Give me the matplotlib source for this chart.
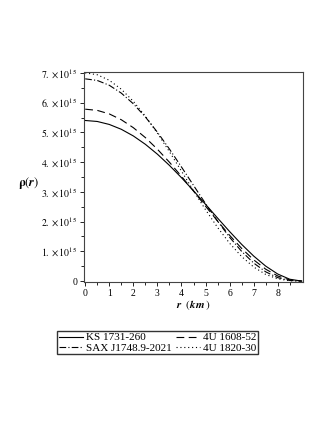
import matplotlib.pyplot as plt

plt.rcParams["font.family"] = "Liberation Serif"
plt.rcParams["mathtext.fontset"] = "stix"

# radius (km)
r = [0, 0.5, 1, 1.5, 2, 2.5, 3, 3.5, 4, 4.5, 5, 5.5, 6, 6.5, 7, 7.5, 8, 8.5, 9]

# density in units of 1e15
rho_ks1731 = [5.40, 5.367, 5.267, 5.104, 4.880, 4.599, 4.267, 3.890, 3.477, 3.038,
              2.581, 2.120, 1.667, 1.236, 0.843, 0.504, 0.238, 0.063, 0.0]
rho_4u1608 = [5.78, 5.740, 5.621, 5.425, 5.158, 4.825, 4.434, 3.997, 3.523, 3.026,
              2.519, 2.019, 1.540, 1.100, 0.715, 0.401, 0.172, 0.039, 0.0]
rho_sax1748 = [6.80, 6.746, 6.584, 6.320, 5.961, 5.519, 5.006, 4.440, 3.837, 3.219,
               2.605, 2.017, 1.475, 1.000, 0.608, 0.312, 0.117, 0.021, 0.0]
rho_4u1820 = [7.00, 6.938, 6.752, 6.451, 6.044, 5.546, 4.975, 4.351, 3.698, 3.039,
              2.400, 1.804, 1.273, 0.825, 0.474, 0.225, 0.076, 0.011, 0.0]

labels = ["KS 1731-260", "4U 1608-52", "SAX J1748.9-2021", "4U 1820-30"]

fig = plt.figure(figsize=(3.27, 4.23), dpi=100)
ax = fig.add_axes([84 / 327, 1 - 282 / 423, 219 / 327, 210 / 423])

scale = 1e15
lw = 0.8
l1, = ax.plot(r, [v * scale for v in rho_ks1731], color="black", lw=lw, ls="-")
l2, = ax.plot(r, [v * scale for v in rho_4u1608], color="black", lw=lw, ls=(0, (7, 4)))
l3, = ax.plot(r, [v * scale for v in rho_sax1748], color="black", lw=lw, ls=(0, (6, 2, 1, 2)))
l4, = ax.plot(r, [v * scale for v in rho_4u1820], color="black", lw=lw, ls=(0, (1, 2.5)))

ax.set_xlim(-0.05, 9.05)
ax.set_ylim(-0.03e15, 7.03e15)

ax.set_xticks(range(0, 9))
ax.set_xticks([x + 0.5 for x in range(0, 9)], minor=True)
ax.set_xticklabels([str(x) for x in range(0, 9)])

yt = [i * scale for i in range(0, 8)]
ax.set_yticks(yt)
ax.set_yticks([(i + 0.5) * scale for i in range(0, 7)], minor=True)
ax.set_yticklabels(["0"] + [r"$%d.\times10^{15}$" % i for i in range(1, 8)])

ax.tick_params(axis="both", which="major", direction="out", length=3, width=0.6,
               labelsize=7, pad=2)
ax.tick_params(axis="both", which="minor", direction="out", length=2, width=0.6)
for s in ax.spines.values():
    s.set_linewidth(0.8)
    s.set_color("#444444")

ax.set_xlabel(r"$\mathbfit{r}\ \ (\mathbfit{km}\,)$", fontsize=8, labelpad=0)
fig.text(18 / 327, 1 - 183 / 423, r"$\mathbf{\rho}(\mathbfit{r})$", fontsize=9,
         va="center", ha="left")

# legend filled row by row: KS | 4U1608 / SAX | 4U1820
fig.legend([l1, l3, l2, l4], [labels[0], labels[2], labels[1], labels[3]],
           loc="upper left", ncol=2,
           bbox_to_anchor=(57 / 327, 1 - 331 / 423), frameon=True, fancybox=False,
           edgecolor="black", fontsize=8, handlelength=2.2, handletextpad=0.3,
           columnspacing=0.3, borderpad=0.15, labelspacing=0.05, borderaxespad=0)

fig.savefig("out.png", dpi=100)
plt.close(fig)
